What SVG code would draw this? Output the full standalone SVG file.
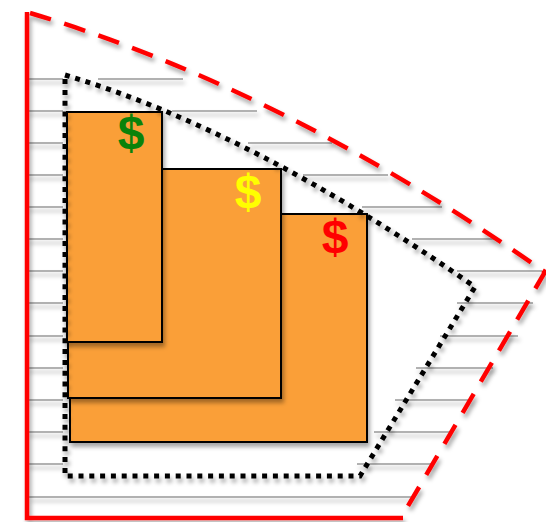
<svg xmlns="http://www.w3.org/2000/svg" width="546" height="522" viewBox="0 0 546 522">
<defs>
<filter id="sh" x="-10%" y="-10%" width="130%" height="130%">
<feDropShadow dx="2" dy="4" stdDeviation="2.2" flood-color="#000" flood-opacity="0.35"/>
</filter>
<style>
.hatch line{stroke:#999;stroke-width:1.6}
.solid{fill:none;stroke:#ff0000;stroke-width:4.5}
.dash{fill:none;stroke:#ff0000;stroke-width:4.5;stroke-dasharray:22 14}
.dots{fill:none;stroke:#000;stroke-width:5;stroke-dasharray:5 5.8}
.box{fill:#FA9F38;stroke:#000;stroke-width:2}
.dol{font-family:"Liberation Sans",Arial,sans-serif;font-weight:bold;font-size:48px;text-anchor:middle}
</style>
</defs>
<rect width="546" height="522" fill="#fff"/>
<g id="hatch" class="hatch" filter="url(#sh)">
<line x1="27" y1="79" x2="63" y2="79"/><line x1="98" y1="79" x2="183" y2="79"/>
<line x1="27" y1="111" x2="63" y2="111"/><line x1="172" y1="111" x2="257" y2="111"/>
<line x1="27" y1="143" x2="63" y2="143"/><line x1="248" y1="143" x2="332" y2="143"/>
<line x1="27" y1="175" x2="63" y2="175"/><line x1="303" y1="175" x2="388" y2="175"/>
<line x1="27" y1="207" x2="63" y2="207"/><line x1="362" y1="207" x2="442" y2="207"/>
<line x1="27" y1="239" x2="63" y2="239"/><line x1="412" y1="239" x2="495" y2="239"/>
<line x1="27" y1="271" x2="63" y2="271"/><line x1="457" y1="271" x2="542" y2="271"/>
<line x1="27" y1="303" x2="63" y2="303"/><line x1="457" y1="303" x2="533" y2="303"/>
<line x1="27" y1="336" x2="63" y2="336"/><line x1="440" y1="336" x2="518" y2="336"/>
<line x1="27" y1="368" x2="63" y2="368"/><line x1="416" y1="368" x2="493" y2="368"/>
<line x1="27" y1="400" x2="63" y2="400"/><line x1="395" y1="400" x2="472" y2="400"/>
<line x1="27" y1="432" x2="63" y2="432"/><line x1="374" y1="432" x2="452" y2="432"/>
<line x1="27" y1="464" x2="63" y2="464"/><line x1="357" y1="464" x2="433" y2="464"/>
<line x1="29" y1="497" x2="412" y2="497"/>
</g>
<g id="outer-region" filter="url(#sh)">
<path class="solid" d="M 27 12 L 27 518 L 403 518"/>
<path class="dash" d="M 30 13 Q 283.5 89 545 272 L 401 518"/>
</g>
<g id="boxes">
<g id="box-red" filter="url(#sh)">
<rect class="box" x="70" y="214" width="297" height="228"/>
</g>
<g id="box-yellow" filter="url(#sh)">
<rect class="box" x="68" y="169" width="213" height="229"/>
</g>
<g id="box-green" filter="url(#sh)">
<rect class="box" x="67" y="112" width="95" height="230"/>
</g>
</g>
<g id="dotted-boundary" filter="url(#sh)">
<path class="dots" d="M 65 75 Q 251.75 130.7 475 287 L 360 476 L 65 476 Z"/>
</g>
<g id="labels">
<text class="dol" x="131" y="149" fill="#0A820A">$</text>
<text class="dol" x="248" y="208" fill="#FFFF00">$</text>
<text class="dol" x="335" y="253" fill="#FF0000">$</text>
</g>
<g id="connectors"/>
</svg>
